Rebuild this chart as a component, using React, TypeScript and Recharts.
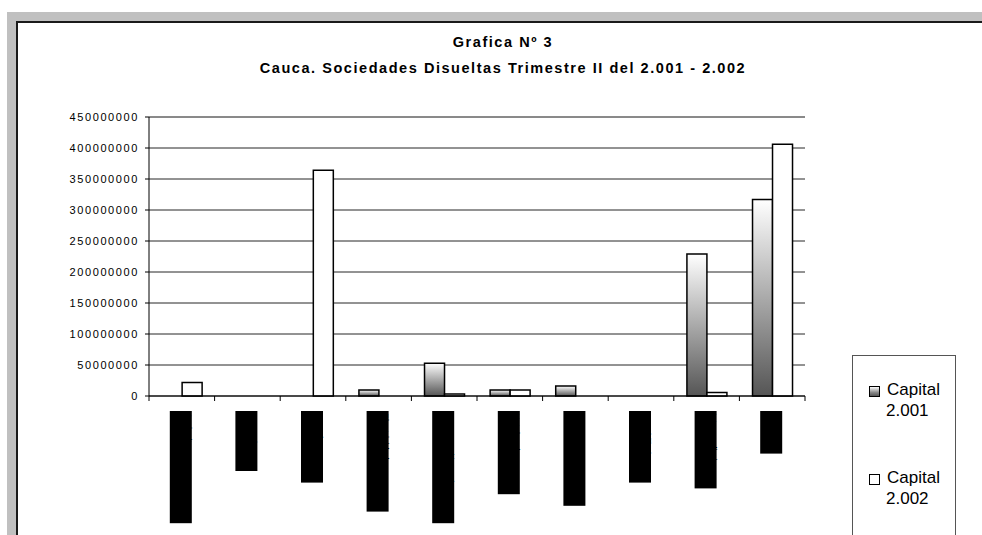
import React from 'react'
import { BarChart, Bar, XAxis, YAxis, CartesianGrid, Legend, ReferenceLine } from 'recharts'

const categories = [
  'Agricultura y pesca',
  'Extractiva',
  'Manufacturas',
  'Electricidad, gas',
  'Construcción y vías',
  'Hoteles, bares',
  'Transporte carga',
  'Inmobiliario',
  'Intermediario',
  'Hogares',
]
const capital2001 = [0, 0, 0, 9700000, 53000000, 9700000, 16000000, 0, 229000000, 317000000]
const capital2002 = [21600000, 0, 364000000, 0, 3200000, 9500000, 0, 0, 5500000, 406000000]
const yTicks = [0, 50000000, 100000000, 150000000, 200000000, 250000000, 300000000, 350000000, 400000000, 450000000]

const data = categories.map((name, i) => ({
  name,
  'Capital 2.001': capital2001[i],
  'Capital 2.002': capital2002[i],
}))

const FONT = '"Liberation Sans", Arial, sans-serif'
const W = 982
const H = 535
const MARGIN = { top: 117, right: 177, bottom: 109, left: 69 }
const BAND = (W - MARGIN.left - 80 - MARGIN.right) / categories.length

// excel drew the rotated category labels as solid black boxes
function CategoryTick(props: any) {
  const { x, y, payload, index } = props
  const label = String(payload.value)
  const h = label.length * 5.8 + 2
  return (
    <g>
      <line x1={x - BAND / 2} y1={y} x2={x - BAND / 2} y2={y + 5} stroke="#000" />
      {index === categories.length - 1 && (
        <line x1={x + BAND / 2} y1={y} x2={x + BAND / 2} y2={y + 5} stroke="#000" />
      )}
      <rect x={x - 12} y={y + 15} width={22} height={h} fill="#000" />
      <text
        transform={`translate(${x + 3},${y + 17}) rotate(90)`}
        fontSize={9}
        fontFamily={FONT}
        fill="#000"
      >
        {label}
      </text>
    </g>
  )
}

function LegendBox(props: any) {
  const items = props.payload || []
  return (
    <div
      style={{
        position: 'relative',
        width: 102,
        height: 190,
        border: '1px solid #555',
        background: '#fff',
        fontFamily: FONT,
        fontSize: 17,
        lineHeight: '21px',
        color: '#000',
      }}
    >
      {items.map((it: any, i: number) => {
        const [first, second] = String(it.value).split(' ')
        return (
          <div key={i} style={{ position: 'absolute', left: 16, top: 23 + i * 88 }}>
            <span
              style={{
                position: 'absolute',
                left: 0,
                top: 7,
                width: 9,
                height: 9,
                border: '1.5px solid #000',
                background: i === 0 ? 'linear-gradient(#fff, #888 60%, #555)' : '#fff',
              }}
            />
            <div style={{ marginLeft: 18, whiteSpace: 'nowrap' }}>{first}</div>
            <div style={{ marginLeft: 17, whiteSpace: 'nowrap' }}>{second}</div>
          </div>
        )
      })}
    </div>
  )
}

export default function App() {
  return (
    <div style={{ position: 'absolute', left: 0, top: 0, width: W, height: H, overflow: 'hidden', background: '#fff' }}>
      <div style={{ position: 'absolute', left: 7, top: 12, width: W - 7, height: H - 12, background: '#c0c0c0' }} />
      <div
        style={{
          position: 'absolute',
          left: 16,
          top: 21,
          width: W - 16,
          height: H - 21,
          background: '#fff',
          borderLeft: '2px solid #1a1a1a',
          borderTop: '2px solid #1a1a1a',
        }}
      />
      <div
        style={{
          position: 'absolute',
          left: 0,
          top: 29,
          width: W,
          textAlign: 'center',
          fontFamily: FONT,
          fontWeight: 'bold',
          fontSize: 14.5,
          letterSpacing: 1.55,
          lineHeight: '26px',
          color: '#000',
          paddingLeft: 24,
          boxSizing: 'border-box',
        }}
      >
        <div>Grafica Nº 3</div>
        <div>Cauca. Sociedades Disueltas Trimestre II del 2.001 - 2.002</div>
      </div>
      <div style={{ position: 'absolute', left: 0, top: 0 }}>
        <BarChart width={W} height={H} data={data} margin={MARGIN} barCategoryGap="20%" barGap={0}>
          <defs>
            <linearGradient id="g2001" x1="0" y1="0" x2="0" y2="1">
              <stop offset="0%" stopColor="#ffffff" />
              <stop offset="100%" stopColor="#555555" />
            </linearGradient>
          </defs>
          <CartesianGrid vertical={false} stroke="#000" strokeOpacity={0.85} />
          <XAxis
            dataKey="name"
            interval={0}
            height={30}
            tickLine={false}
            tickSize={0}
            tickMargin={0}
            axisLine={{ stroke: '#000' }}
            tick={<CategoryTick />}
          />
          <YAxis
            width={80}
            domain={[0, 450000000]}
            ticks={yTicks}
            interval={0}
            tickFormatter={(v: number) => String(v)}
            axisLine={{ stroke: '#000' }}
            tickLine={{ stroke: '#000' }}
            tickSize={4}
            tickMargin={6}
            tick={{ fontSize: 11, fill: '#000', fontFamily: FONT, letterSpacing: 1.6 }}
          />
          <YAxis
            yAxisId="r"
            orientation="right"
            width={0}
            domain={[0, 450000000]}
            tick={false}
            tickLine={false}
            axisLine={{ stroke: '#808080' }}
          />
          <ReferenceLine y={450000000} stroke="#808080" />
          <Legend
            layout="vertical"
            align="center"
            verticalAlign="middle"
            wrapperStyle={{ left: 852, top: 355, width: 104 }}
            content={<LegendBox />}
          />
          <Bar dataKey="Capital 2.001" fill="url(#g2001)" stroke="#000" strokeWidth={1.5} isAnimationActive={false} />
          <Bar dataKey="Capital 2.002" fill="#fff" stroke="#000" strokeWidth={1.5} isAnimationActive={false} />
        </BarChart>
      </div>
    </div>
  )
}
